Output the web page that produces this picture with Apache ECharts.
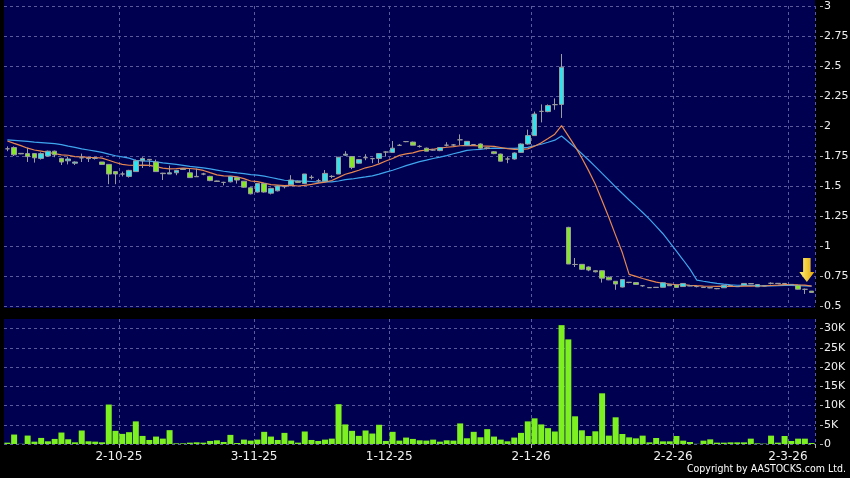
<!DOCTYPE html>
<html><head><meta charset="utf-8">
<script src="https://cdn.jsdelivr.net/npm/echarts@6/dist/echarts.min.js"></script>
<style>html,body{margin:0;padding:0;background:#000;}#c{width:850px;height:478px;}</style>
</head><body><div id="c"></div>
<script>
// ---- data ----
const dates = [
'8-9-25','9-9-25','10-9-25','11-9-25','12-9-25','15-9-25','16-9-25','17-9-25','18-9-25','19-9-25','22-9-25','23-9-25','24-9-25','25-9-25','26-9-25','29-9-25','30-9-25',
'2-10-25','3-10-25','6-10-25','8-10-25','9-10-25','10-10-25','13-10-25','14-10-25','15-10-25','16-10-25','17-10-25','20-10-25','21-10-25','22-10-25','23-10-25','24-10-25','27-10-25','28-10-25','30-10-25','31-10-25',
'3-11-25','4-11-25','5-11-25','6-11-25','7-11-25','10-11-25','11-11-25','12-11-25','13-11-25','14-11-25','17-11-25','18-11-25','19-11-25','20-11-25','21-11-25','24-11-25','25-11-25','26-11-25','27-11-25','28-11-25',
'1-12-25','2-12-25','3-12-25','4-12-25','5-12-25','8-12-25','9-12-25','10-12-25','11-12-25','12-12-25','15-12-25','16-12-25','17-12-25','18-12-25','19-12-25','22-12-25','23-12-25','24-12-25','29-12-25','30-12-25','31-12-25',
'2-1-26','5-1-26','6-1-26','7-1-26','8-1-26','9-1-26','12-1-26','13-1-26','14-1-26','15-1-26','16-1-26','19-1-26','20-1-26','21-1-26','22-1-26','23-1-26','26-1-26','27-1-26','28-1-26','29-1-26','30-1-26',
'2-2-26','3-2-26','4-2-26','5-2-26','6-2-26','9-2-26','10-2-26','11-2-26','12-2-26','13-2-26','16-2-26','20-2-26','23-2-26','24-2-26','25-2-26','26-2-26','27-2-26',
'2-3-26','3-3-26','4-3-26','5-3-26'];

const openP = [
1.81,1.82,1.772,1.77,1.77,1.73,1.75,1.79,1.73,1.71,1.69,1.735,1.732,1.73,1.70,1.68,1.62,1.60,1.58,1.62,
1.71,1.722,1.70,1.607,1.60,1.61,1.642,1.61,1.58,1.60,1.58,1.542,1.53,1.535,1.57,1.54,1.485,1.45,1.52,1.44,
1.46,1.495,1.51,1.54,1.52,1.572,1.544,1.54,1.58,1.60,1.757,1.745,1.69,1.736,1.728,1.73,1.783,1.78,1.839,1.87,
1.866,1.83,1.815,1.80,1.795,1.84,1.842,1.885,1.838,1.845,1.85,1.818,1.785,1.766,1.725,1.725,1.78,1.85,1.92,2.122,
2.12,2.178,2.18,1.155,0.846,0.847,0.825,0.794,0.794,0.74,0.706,0.658,0.698,0.695,0.669,0.654,0.656,0.656,0.68,0.675,
0.662,0.669,0.662,0.656,0.653,0.646,0.652,0.672,0.663,0.672,0.687,0.66,0.669,0.689,0.689,0.688,0.68,0.673,0.639,0.624];

const closeP = [
1.81,1.76,1.768,1.745,1.735,1.77,1.79,1.76,1.70,1.725,1.70,1.735,1.728,1.73,1.68,1.60,1.60,1.60,1.63,1.71,
1.73,1.718,1.62,1.603,1.61,1.63,1.638,1.57,1.577,1.60,1.545,1.538,1.53,1.58,1.55,1.49,1.435,1.52,1.45,1.48,
1.50,1.495,1.55,1.53,1.60,1.572,1.544,1.605,1.58,1.74,1.765,1.655,1.72,1.736,1.728,1.77,1.783,1.815,1.839,1.87,
1.84,1.83,1.79,1.80,1.82,1.84,1.842,1.885,1.872,1.845,1.815,1.812,1.77,1.707,1.725,1.775,1.85,1.92,2.10,2.122,
2.17,2.178,2.49,0.85,0.846,0.806,0.80,0.785,0.732,0.718,0.683,0.72,0.696,0.68,0.669,0.652,0.654,0.694,0.669,0.655,
0.688,0.667,0.662,0.654,0.651,0.644,0.673,0.670,0.661,0.688,0.685,0.679,0.667,0.689,0.687,0.686,0.678,0.64,0.639,0.613];

const lowP = [
1.79,1.75,1.765,1.70,1.695,1.72,1.745,1.74,1.675,1.68,1.675,1.70,1.70,1.72,1.675,1.515,1.515,1.58,1.57,1.62,
1.65,1.66,1.62,1.55,1.60,1.59,1.635,1.57,1.575,1.59,1.54,1.535,1.505,1.53,1.52,1.485,1.43,1.445,1.445,1.43,
1.455,1.48,1.505,1.525,1.515,1.555,1.53,1.535,1.565,1.60,1.75,1.64,1.685,1.715,1.69,1.69,1.745,1.78,1.835,1.865,
1.84,1.82,1.79,1.795,1.79,1.83,1.835,1.84,1.835,1.84,1.81,1.805,1.765,1.705,1.69,1.72,1.775,1.845,1.92,2.03,
2.115,2.135,2.067,0.85,0.825,0.80,0.79,0.78,0.695,0.715,0.635,0.655,0.69,0.678,0.66,0.65,0.65,0.655,0.667,0.653,
0.66,0.665,0.655,0.652,0.648,0.64,0.65,0.668,0.658,0.67,0.683,0.658,0.665,0.68,0.685,0.684,0.676,0.638,0.60,0.612];

const highP = [
1.83,1.83,1.775,1.82,1.775,1.78,1.795,1.795,1.735,1.745,1.705,1.77,1.735,1.74,1.70,1.68,1.625,1.62,1.635,1.72,
1.74,1.725,1.72,1.61,1.67,1.635,1.645,1.645,1.645,1.61,1.585,1.545,1.535,1.58,1.575,1.54,1.49,1.525,1.525,1.485,
1.505,1.50,1.59,1.545,1.60,1.59,1.56,1.633,1.59,1.74,1.79,1.75,1.725,1.765,1.735,1.775,1.79,1.875,1.85,1.875,
1.87,1.84,1.82,1.805,1.825,1.865,1.85,1.93,1.875,1.85,1.855,1.825,1.79,1.77,1.745,1.78,1.855,1.97,2.12,2.18,
2.18,2.23,2.60,1.16,0.90,0.85,0.83,0.797,0.797,0.745,0.708,0.722,0.70,0.697,0.675,0.656,0.657,0.697,0.683,0.677,
0.69,0.67,0.667,0.657,0.655,0.648,0.675,0.674,0.665,0.69,0.689,0.68,0.671,0.697,0.691,0.69,0.682,0.675,0.645,0.625];

// volume in thousands of shares
const volumeK = [
0.35,2.46,0.05,2.19,0.61,1.58,0.70,1.32,2.98,1.23,0.44,3.51,0.70,0.61,0.44,10.26,3.42,2.63,3.07,5.88,
2.10,1.05,1.93,1.40,3.60,0.18,0.18,0.35,0.44,0.35,0.79,0.96,0.53,2.37,0.26,1.14,0.88,1.14,3.16,1.93,
1.05,2.89,0.88,0.35,3.25,1.05,0.79,1.14,1.40,10.35,5.09,3.42,2.11,3.51,2.72,5.0,0.79,3.16,0.88,1.67,
1.32,0.96,0.88,1.14,0.61,0.96,0.88,5.35,1.49,3.16,1.75,3.86,1.93,1.14,0.70,1.67,2.89,5.88,6.67,5.09,
4.12,3.25,30.9,27.2,7.2,3.56,2.08,3.30,13.18,2.17,6.94,2.60,1.73,1.47,2.17,0.43,1.56,0.69,0.69,2.08,
0.87,0.52,0.05,0.87,1.21,0.35,0.35,0.43,0.43,0.43,1.39,0.17,0.09,2.17,0.35,2.08,0.78,1.39,1.39,0.26];

// moving-average values read off the lines where the prior closes are not on the chart
const ma10Head = [1.875,1.855,1.836,1.815,1.80,1.79,1.78,1.77,1.76];
const ma20Head = [1.884,1.880,1.876,1.872,1.866,1.862,1.858,1.853,1.845,1.832,1.822,1.810,1.800,1.790,1.780,1.765,1.752,1.742,1.732];

const xTickLabels = ['2-10-25','3-11-25','1-12-25','2-1-26','2-2-26','2-3-26'];
const priceAxis = {min: 0.5, max: 3, step: 0.25};
const volAxis = {min: 0, max: 32.5, step: 5};
const arrowMark = {date: '4-3-26', price: 0.80};

// ---- derived ----
function movingAvg(n, head) {
  return closeP.map((c, i) => {
    if (i < n - 1) return head[i];
    let s = 0;
    for (let j = i - n + 1; j <= i; j++) s += closeP[j];
    return +(s / n).toFixed(4);
  });
}
const ma10 = movingAvg(10, ma10Head);
const ma20 = movingAvg(20, ma20Head);
const candles = dates.map((d, i) => [openP[i], closeP[i], lowP[i], highP[i]]);

const NAVY = '#000050';
const GRID_LINE = {color: '#5a5a9c', type: [3, 3], width: 1};
const PLOT_L = 4, PLOT_W = 811;
const band = PLOT_W / dates.length;
const showAt = (i, v) => xTickLabels.indexOf(v) >= 0;

const chart = echarts.init(document.getElementById('c'), null, {renderer: 'canvas'});
chart.setOption({
  animation: false,
  backgroundColor: '#000000',
  textStyle: {fontFamily: 'DejaVu Sans'},
  title: {
    text: 'Copyright by AASTOCKS.com Ltd.',
    right: 4, top: 464, padding: 0,
    textStyle: {color: '#ffffff', fontSize: 10.5, fontWeight: 'normal', fontFamily: 'DejaVu Sans Condensed'}
  },
  graphic: [{
    type: 'rect', z: -10, silent: true,
    shape: {x: PLOT_L, y: 0, width: PLOT_W, height: 308},
    style: {fill: NAVY}
  }],
  grid: [
    {left: PLOT_L, width: PLOT_W, top: 6, height: 300, containLabel: false, outerBoundsMode: 'none'},
    {left: PLOT_L, width: PLOT_W, top: 319, height: 125, containLabel: false, outerBoundsMode: 'none',
     show: true, backgroundColor: NAVY, borderWidth: 0}
  ],
  xAxis: [
    {type: 'category', gridIndex: 0, data: dates, boundaryGap: true,
     axisLine: {show: false}, axisTick: {show: false}, axisLabel: {show: false},
     splitLine: {show: true, interval: showAt, lineStyle: GRID_LINE}},
    {type: 'category', gridIndex: 1, data: dates, boundaryGap: true, position: 'bottom',
     axisLine: {show: false},
     axisTick: {show: true, interval: showAt, length: 4, lineStyle: {color: '#b0b0b0'}},
     axisLabel: {show: true, interval: showAt, color: '#f0f0f0', fontSize: 12, margin: 7,
                 padding: [0, band, 0, 0]},
     splitLine: {show: true, interval: showAt, lineStyle: GRID_LINE}}
  ],
  yAxis: [
    {type: 'value', gridIndex: 0, position: 'right', offset: 5,
     min: priceAxis.min, max: priceAxis.max, interval: priceAxis.step,
     axisLine: {show: false},
     axisTick: {show: true, length: 3, lineStyle: {color: '#b0b0b0'}},
     axisLabel: {color: '#f0f0f0', fontSize: 11, margin: 4},
     splitLine: {show: true, lineStyle: GRID_LINE}},
    {type: 'value', gridIndex: 1, position: 'right', offset: 5,
     min: volAxis.min, max: volAxis.max, interval: volAxis.step,
     axisLine: {show: false},
     axisTick: {show: true, length: 3, lineStyle: {color: '#b0b0b0'}},
     axisLabel: {color: '#f0f0f0', fontSize: 11, margin: 4, showMaxLabel: false,
                 formatter: v => v === 0 ? '0' : v + 'K'},
     splitLine: {show: true, showMaxLine: false, lineStyle: GRID_LINE}}
  ],
  series: [
    {name: 'MA20', type: 'line', xAxisIndex: 0, yAxisIndex: 0, data: ma20, showSymbol: false,
     z: 1, lineStyle: {color: '#3fa6ee', width: 1.2}},
    {name: 'MA10', type: 'line', xAxisIndex: 0, yAxisIndex: 0, data: ma10, showSymbol: false,
     z: 1, lineStyle: {color: '#e8874f', width: 1.2}},
    {name: 'Price', type: 'candlestick', xAxisIndex: 0, yAxisIndex: 0, data: candles,
     barWidth: 5, z: 3,
     itemStyle: {color: '#2de3f0', color0: '#86e62a', borderColor: '#9c9c9c', borderColor0: '#9c9c9c',
                 borderColorDoji: '#9c9c9c', borderWidth: 1},
     markPoint: {
       silent: true,
       symbol: 'path://M4,0L12,0L12,14L16,14L8,24L0,14L4,14Z',
       symbolSize: [15, 24], symbolOffset: [2, 0],
       label: {show: false},
       itemStyle: {color: {type: 'linear', x: 0, y: 0, x2: 1, y2: 0,
                   colorStops: [{offset: 0, color: '#fff27a'}, {offset: 1, color: '#e2a400'}]}},
       data: [{coord: [arrowMark.date, arrowMark.price]}]
     }},
    {name: 'Volume', type: 'bar', xAxisIndex: 1, yAxisIndex: 1, data: volumeK,
     barWidth: 6, itemStyle: {color: '#7cf020'}}
  ]
});
</script>
</body></html>
